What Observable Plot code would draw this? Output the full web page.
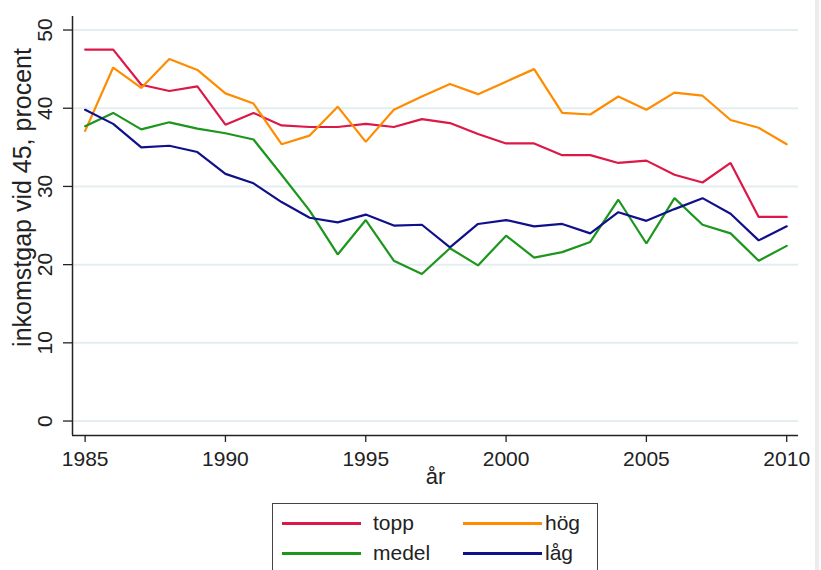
<!DOCTYPE html>
<html>
<head>
<meta charset="utf-8">
<script src="https://cdn.jsdelivr.net/npm/d3@7"></script>
<script src="https://cdn.jsdelivr.net/npm/@observablehq/plot@0.6"></script>
<style>
  html, body { margin: 0; padding: 0; background: white; }
  #wrap { position: relative; width: 821px; height: 570px; overflow: hidden; background: white; font-family: "Liberation Sans", Arial, sans-serif; }
  #edge { position: absolute; left: 815px; top: 0; width: 4px; height: 570px; background: #ececec; }
  #legend { position: absolute; left: 272px; top: 503px; width: 326px; height: 80px; border: 1px solid #444; box-sizing: border-box; background: white; color: #222; font-size: 21px; }
  .sw { position: absolute; width: 79px; height: 2.5px; }
  .lt { position: absolute; line-height: 24px; }
</style>
</head>
<body>
<div id="wrap">
  <div id="chart"></div>
  <div id="edge"></div>
  <div id="legend"></div>
</div>
<script>
// ---- data ----
const years = [1985,1986,1987,1988,1989,1990,1991,1992,1993,1994,1995,1996,1997,1998,1999,2000,2001,2002,2003,2004,2005,2006,2007,2008,2009,2010];
const topp  = [47.5,47.5,43.0,42.2,42.8,37.9,39.4,37.8,37.6,37.6,38.0,37.6,38.6,38.1,36.7,35.5,35.5,34.0,34.0,33.0,33.3,31.5,30.5,33.0,26.1,26.1];
const hog   = [37.1,45.2,42.6,46.3,44.9,41.9,40.6,35.4,36.5,40.2,35.7,39.8,41.5,43.1,41.8,43.4,45.0,39.4,39.2,41.5,39.8,42.0,41.6,38.5,37.5,35.4];
const medel = [37.7,39.4,37.3,38.2,37.4,36.8,36.0,31.5,26.9,21.3,25.7,20.5,18.8,22.1,19.9,23.7,20.9,21.6,22.9,28.3,22.7,28.5,25.1,24.0,20.5,22.4];
const lag   = [39.8,38.0,35.0,35.2,34.4,31.6,30.4,28.0,26.0,25.4,26.4,25.0,25.1,22.2,25.2,25.7,24.9,25.2,24.0,26.7,25.6,27.1,28.5,26.5,23.1,24.9];
const seriesNames = ["topp", "hög", "medel", "låg"];
const seriesColors = ["#dc1848", "#ff8c00", "#1c961c", "#10108c"];
const xTicks = [1985, 1990, 1995, 2000, 2005, 2010];
const yTicks = [0, 10, 20, 30, 40, 50];
const xLabel = "år";
const yLabel = "inkomstgap vid 45, procent";

// ---- build ----
const seriesValues = [topp, hog, medel, lag];
const data = seriesNames.flatMap((name, s) =>
  years.map((year, i) => ({year, value: seriesValues[s][i], serie: name})));

const xDomain = [1984.55, 2010.42];
const yDomain = [-1.85, 51.73];
const ink = "#222";

const chart = Plot.plot({
  width: 821,
  height: 500,
  marginLeft: 72,
  marginRight: 23,
  marginTop: 16,
  marginBottom: 65,
  style: {fontFamily: "'Liberation Sans', Arial, sans-serif", background: "white", color: ink},
  x: {domain: xDomain, axis: null},
  y: {domain: yDomain, axis: null},
  color: {domain: seriesNames, range: seriesColors},
  marks: [
    Plot.gridY(yTicks, {stroke: "#e4eef0", strokeWidth: 2, strokeOpacity: 1}),
    Plot.ruleY([yDomain[0]], {stroke: ink, strokeWidth: 1.5}),
    Plot.ruleX([xDomain[0]], {stroke: ink, strokeWidth: 1.5}),
    Plot.axisX(xTicks, {tickSize: 7, tickPadding: 9, fontSize: 21, label: null, tickFormat: d => String(d), stroke: ink, strokeWidth: 1.3}),
    Plot.axisY(yTicks, {tickSize: 9, tickFormat: () => "", label: null, stroke: ink, strokeWidth: 1.3}),
    Plot.text(yTicks, {y: d => d, text: d => String(d), frameAnchor: "left", textAnchor: "middle", lineAnchor: "middle", dx: -27, rotate: -90, fontSize: 21, fill: ink}),
    Plot.text([yLabel], {frameAnchor: "left", textAnchor: "middle", lineAnchor: "middle", dx: -50, dy: -28.5, rotate: -90, fontSize: 25, fill: ink}),
    Plot.text([xLabel], {frameAnchor: "bottom", dy: 48, fontSize: 22, fill: ink}),
    Plot.line(data, {x: "year", y: "value", stroke: "serie", strokeWidth: 2.2, strokeLinejoin: "miter"})
  ]
});
document.getElementById("chart").appendChild(chart);

// ---- legend ----
const legend = document.getElementById("legend");
const pos = [
  {sx: 9, tx: 100, cy: 19},
  {sx: 190, tx: 272, cy: 19},
  {sx: 9, tx: 100, cy: 49},
  {sx: 190, tx: 272, cy: 49}
];
seriesNames.forEach((name, i) => {
  const p = pos[i];
  const sw = document.createElement("div");
  sw.className = "sw";
  sw.style.left = p.sx + "px";
  sw.style.top = (p.cy - 1) + "px";
  sw.style.background = seriesColors[i];
  legend.appendChild(sw);
  const t = document.createElement("div");
  t.className = "lt";
  t.style.left = p.tx + "px";
  t.style.top = (p.cy - 12) + "px";
  t.textContent = name;
  legend.appendChild(t);
});
</script>
</body>
</html>
